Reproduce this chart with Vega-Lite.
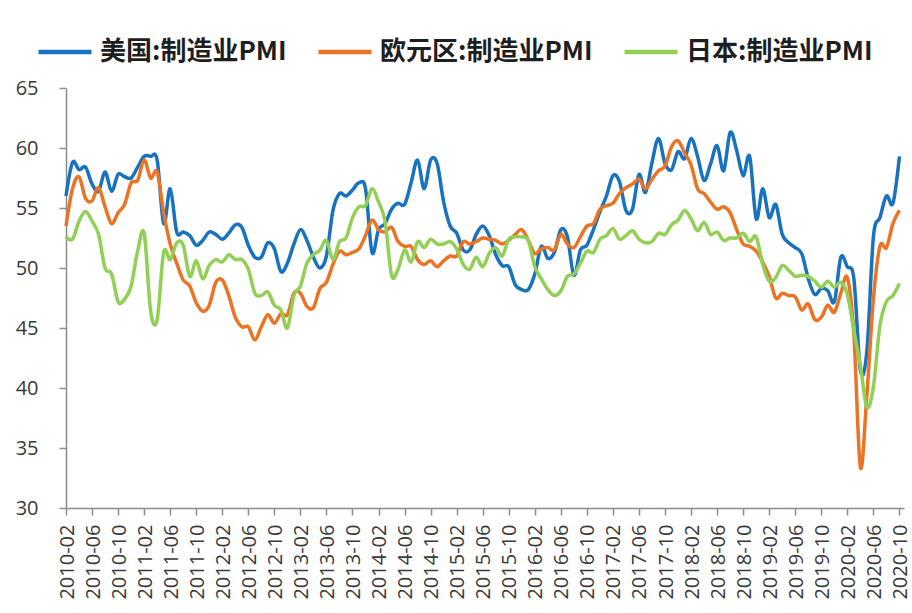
{
  "$schema": "https://vega.github.io/schema/vega-lite/v6.json",
  "width": 838,
  "height": 420,
  "autosize": {"type": "none"},
  "padding": {"left": 66, "top": 88, "right": 8, "bottom": 105},
  "background": "white",
  "config": {"view": {"stroke": null}},
  "data": {"values": [
    {"month":"2010-02","us":56.0,"ez":53.5,"jp":52.6},
    {"month":"2010-03","us":58.8,"ez":56.6,"jp":52.4},
    {"month":"2010-04","us":58.2,"ez":57.6,"jp":53.9},
    {"month":"2010-05","us":58.4,"ez":55.8,"jp":54.7},
    {"month":"2010-06","us":57.0,"ez":55.6,"jp":53.9},
    {"month":"2010-07","us":56.4,"ez":56.7,"jp":52.8},
    {"month":"2010-08","us":58.0,"ez":55.1,"jp":50.0},
    {"month":"2010-09","us":56.4,"ez":53.7,"jp":49.5},
    {"month":"2010-10","us":57.8,"ez":54.6,"jp":47.2},
    {"month":"2010-11","us":57.6,"ez":55.3,"jp":47.4},
    {"month":"2010-12","us":57.5,"ez":57.1,"jp":48.5},
    {"month":"2011-01","us":58.4,"ez":57.3,"jp":51.4},
    {"month":"2011-02","us":59.3,"ez":59.0,"jp":52.9},
    {"month":"2011-03","us":59.3,"ez":57.5,"jp":46.4},
    {"month":"2011-04","us":59.0,"ez":58.0,"jp":45.7},
    {"month":"2011-05","us":53.7,"ez":54.6,"jp":51.3},
    {"month":"2011-06","us":56.6,"ez":52.0,"jp":50.7},
    {"month":"2011-07","us":53.0,"ez":50.4,"jp":52.1},
    {"month":"2011-08","us":53.0,"ez":49.0,"jp":51.9},
    {"month":"2011-09","us":52.7,"ez":48.5,"jp":49.3},
    {"month":"2011-10","us":51.9,"ez":47.1,"jp":50.6},
    {"month":"2011-11","us":52.3,"ez":46.4,"jp":49.1},
    {"month":"2011-12","us":53.0,"ez":46.9,"jp":50.2},
    {"month":"2012-01","us":52.8,"ez":48.8,"jp":50.7},
    {"month":"2012-02","us":52.4,"ez":49.0,"jp":50.5},
    {"month":"2012-03","us":52.9,"ez":47.7,"jp":51.1},
    {"month":"2012-04","us":53.6,"ez":45.9,"jp":50.7},
    {"month":"2012-05","us":53.4,"ez":45.1,"jp":50.7},
    {"month":"2012-06","us":51.9,"ez":45.1,"jp":49.9},
    {"month":"2012-07","us":50.9,"ez":44.0,"jp":47.9},
    {"month":"2012-08","us":50.9,"ez":45.1,"jp":47.7},
    {"month":"2012-09","us":52.1,"ez":46.1,"jp":48.0},
    {"month":"2012-10","us":51.6,"ez":45.4,"jp":46.9},
    {"month":"2012-11","us":49.7,"ez":46.2,"jp":46.5},
    {"month":"2012-12","us":50.4,"ez":46.1,"jp":45.0},
    {"month":"2013-01","us":52.0,"ez":47.9,"jp":47.7},
    {"month":"2013-02","us":53.2,"ez":47.9,"jp":48.5},
    {"month":"2013-03","us":52.3,"ez":46.8,"jp":50.4},
    {"month":"2013-04","us":50.9,"ez":46.7,"jp":51.1},
    {"month":"2013-05","us":50.0,"ez":48.3,"jp":51.5},
    {"month":"2013-06","us":51.0,"ez":48.8,"jp":52.3},
    {"month":"2013-07","us":54.8,"ez":50.3,"jp":50.7},
    {"month":"2013-08","us":56.2,"ez":51.4,"jp":52.2},
    {"month":"2013-09","us":56.0,"ez":51.1,"jp":52.5},
    {"month":"2013-10","us":56.5,"ez":51.3,"jp":54.2},
    {"month":"2013-11","us":57.1,"ez":51.6,"jp":55.1},
    {"month":"2013-12","us":56.6,"ez":52.7,"jp":55.2},
    {"month":"2014-01","us":51.3,"ez":54.0,"jp":56.6},
    {"month":"2014-02","us":53.2,"ez":53.2,"jp":55.5},
    {"month":"2014-03","us":53.7,"ez":53.0,"jp":53.9},
    {"month":"2014-04","us":54.9,"ez":53.4,"jp":49.4},
    {"month":"2014-05","us":55.4,"ez":52.2,"jp":49.9},
    {"month":"2014-06","us":55.3,"ez":51.8,"jp":51.5},
    {"month":"2014-07","us":57.1,"ez":51.8,"jp":50.5},
    {"month":"2014-08","us":59.0,"ez":50.7,"jp":52.2},
    {"month":"2014-09","us":56.6,"ez":50.3,"jp":51.7},
    {"month":"2014-10","us":59.0,"ez":50.6,"jp":52.4},
    {"month":"2014-11","us":58.7,"ez":50.1,"jp":52.0},
    {"month":"2014-12","us":55.5,"ez":50.6,"jp":52.0},
    {"month":"2015-01","us":53.5,"ez":51.0,"jp":52.2},
    {"month":"2015-02","us":52.9,"ez":51.0,"jp":51.6},
    {"month":"2015-03","us":51.5,"ez":52.2,"jp":50.3},
    {"month":"2015-04","us":51.5,"ez":52.0,"jp":49.9},
    {"month":"2015-05","us":52.8,"ez":52.2,"jp":50.9},
    {"month":"2015-06","us":53.5,"ez":52.5,"jp":50.1},
    {"month":"2015-07","us":52.7,"ez":52.4,"jp":51.2},
    {"month":"2015-08","us":51.1,"ez":52.3,"jp":51.7},
    {"month":"2015-09","us":50.2,"ez":52.0,"jp":51.0},
    {"month":"2015-10","us":50.1,"ez":52.3,"jp":52.4},
    {"month":"2015-11","us":48.6,"ez":52.8,"jp":52.6},
    {"month":"2015-12","us":48.2,"ez":53.2,"jp":52.6},
    {"month":"2016-01","us":48.2,"ez":52.3,"jp":52.3},
    {"month":"2016-02","us":49.5,"ez":51.2,"jp":50.1},
    {"month":"2016-03","us":51.8,"ez":51.6,"jp":49.1},
    {"month":"2016-04","us":50.8,"ez":51.7,"jp":48.2},
    {"month":"2016-05","us":51.3,"ez":51.5,"jp":47.7},
    {"month":"2016-06","us":53.2,"ez":52.8,"jp":48.1},
    {"month":"2016-07","us":52.6,"ez":52.0,"jp":49.3},
    {"month":"2016-08","us":49.4,"ez":51.7,"jp":49.5},
    {"month":"2016-09","us":51.5,"ez":52.6,"jp":50.4},
    {"month":"2016-10","us":51.9,"ez":53.5,"jp":51.4},
    {"month":"2016-11","us":53.2,"ez":53.7,"jp":51.3},
    {"month":"2016-12","us":54.7,"ez":54.9,"jp":52.4},
    {"month":"2017-01","us":56.0,"ez":55.2,"jp":52.7},
    {"month":"2017-02","us":57.7,"ez":55.4,"jp":53.3},
    {"month":"2017-03","us":57.2,"ez":56.2,"jp":52.4},
    {"month":"2017-04","us":54.8,"ez":56.7,"jp":52.7},
    {"month":"2017-05","us":54.9,"ez":57.0,"jp":53.1},
    {"month":"2017-06","us":57.8,"ez":57.4,"jp":52.4},
    {"month":"2017-07","us":56.3,"ez":56.6,"jp":52.1},
    {"month":"2017-08","us":58.8,"ez":57.4,"jp":52.2},
    {"month":"2017-09","us":60.8,"ez":58.1,"jp":52.9},
    {"month":"2017-10","us":58.7,"ez":58.5,"jp":52.8},
    {"month":"2017-11","us":58.2,"ez":60.1,"jp":53.6},
    {"month":"2017-12","us":59.7,"ez":60.6,"jp":54.0},
    {"month":"2018-01","us":59.1,"ez":59.6,"jp":54.8},
    {"month":"2018-02","us":60.8,"ez":58.6,"jp":54.1},
    {"month":"2018-03","us":59.3,"ez":56.6,"jp":53.1},
    {"month":"2018-04","us":57.3,"ez":56.2,"jp":53.8},
    {"month":"2018-05","us":58.7,"ez":55.5,"jp":52.8},
    {"month":"2018-06","us":60.2,"ez":54.9,"jp":53.0},
    {"month":"2018-07","us":58.1,"ez":55.1,"jp":52.3},
    {"month":"2018-08","us":61.3,"ez":54.6,"jp":52.5},
    {"month":"2018-09","us":59.8,"ez":53.2,"jp":52.5},
    {"month":"2018-10","us":57.7,"ez":52.0,"jp":52.9},
    {"month":"2018-11","us":59.3,"ez":51.8,"jp":52.2},
    {"month":"2018-12","us":54.1,"ez":51.4,"jp":52.6},
    {"month":"2019-01","us":56.6,"ez":50.5,"jp":50.3},
    {"month":"2019-02","us":54.2,"ez":49.3,"jp":48.9},
    {"month":"2019-03","us":55.3,"ez":47.5,"jp":49.2},
    {"month":"2019-04","us":52.8,"ez":47.9,"jp":50.2},
    {"month":"2019-05","us":52.1,"ez":47.7,"jp":49.8},
    {"month":"2019-06","us":51.7,"ez":47.6,"jp":49.3},
    {"month":"2019-07","us":51.2,"ez":46.5,"jp":49.4},
    {"month":"2019-08","us":49.1,"ez":47.0,"jp":49.3},
    {"month":"2019-09","us":47.8,"ez":45.7,"jp":48.9},
    {"month":"2019-10","us":48.3,"ez":45.9,"jp":48.4},
    {"month":"2019-11","us":48.1,"ez":46.9,"jp":48.9},
    {"month":"2019-12","us":47.2,"ez":46.3,"jp":48.4},
    {"month":"2020-01","us":50.9,"ez":47.9,"jp":48.8},
    {"month":"2020-02","us":50.1,"ez":49.2,"jp":47.8},
    {"month":"2020-03","us":49.1,"ez":44.5,"jp":44.8},
    {"month":"2020-04","us":41.5,"ez":33.4,"jp":41.9},
    {"month":"2020-05","us":43.1,"ez":39.4,"jp":38.4},
    {"month":"2020-06","us":52.6,"ez":47.4,"jp":40.1},
    {"month":"2020-07","us":54.2,"ez":51.8,"jp":45.2},
    {"month":"2020-08","us":56.0,"ez":51.7,"jp":47.2},
    {"month":"2020-09","us":55.4,"ez":53.7,"jp":47.7},
    {"month":"2020-10","us":59.3,"ez":54.8,"jp":48.7}
  ]},
  "transform": [
    {"fold": ["us", "ez", "jp"], "as": ["series", "value"]}
  ],
  "mark": {"type": "line", "strokeWidth": 3.5, "interpolate": "cardinal"},
  "encoding": {
    "x": {
      "field": "month",
      "type": "ordinal",
      "sort": null,
      "scale": {"type": "point", "padding": 0.35, "align": 0},
      "axis": {
        "title": null,
        "values": ["2010-02","2010-06","2010-10","2011-02","2011-06","2011-10","2012-02","2012-06","2012-10","2013-02","2013-06","2013-10","2014-02","2014-06","2014-10","2015-02","2015-06","2015-10","2016-02","2016-06","2016-10","2017-02","2017-06","2017-10","2018-02","2018-06","2018-10","2019-02","2019-06","2019-10","2020-02","2020-06","2020-10"],
        "labelAngle": -90,
        "labelFont": "Open Sans",
        "labelFontSize": 20,
        "labelColor": "#3a3a3a",
        "labelPadding": 9,
        "labelOffset": 1,
        "labelOverlap": false,
        "domainColor": "#8c8c8c",
        "domainWidth": 1.5,
        "tickColor": "#8c8c8c",
        "tickWidth": 1.5,
        "tickSize": 7,
        "grid": false
      }
    },
    "y": {
      "field": "value",
      "type": "quantitative",
      "scale": {"domain": [30, 65], "zero": false, "nice": false},
      "axis": {
        "title": null,
        "values": [30, 35, 40, 45, 50, 55, 60, 65],
        "labelFont": "Open Sans",
        "labelFontSize": 20,
        "labelColor": "#3a3a3a",
        "labelPadding": 21,
        "domainColor": "#8c8c8c",
        "domainWidth": 1.5,
        "tickColor": "#8c8c8c",
        "tickWidth": 1.5,
        "tickSize": 7,
        "grid": false
      }
    },
    "color": {
      "field": "series",
      "type": "nominal",
      "sort": ["us", "ez", "jp"],
      "scale": {"domain": ["us", "ez", "jp"], "range": ["#1872BE", "#EB7424", "#92CF55"]},
      "legend": {
        "title": null,
        "orient": "none",
        "legendX": -30,
        "legendY": -65,
        "direction": "horizontal",
        "symbolType": "stroke",
        "symbolSize": 2809,
        "symbolStrokeWidth": 4.5,
        "labelFont": "Noto Sans CJK SC",
        "labelFontWeight": "bold",
        "labelFontSize": 26,
        "labelColor": "#1e1e1e",
        "labelOffset": 6,
        "labelLimit": 400,
        "columnPadding": 22,
        "labelExpr": "datum.label == 'us' ? '美国:制造业PMI' : (datum.label == 'ez' ? '欧元区:制造业PMI' : '日本:制造业PMI')"
      }
    }
  }
}
